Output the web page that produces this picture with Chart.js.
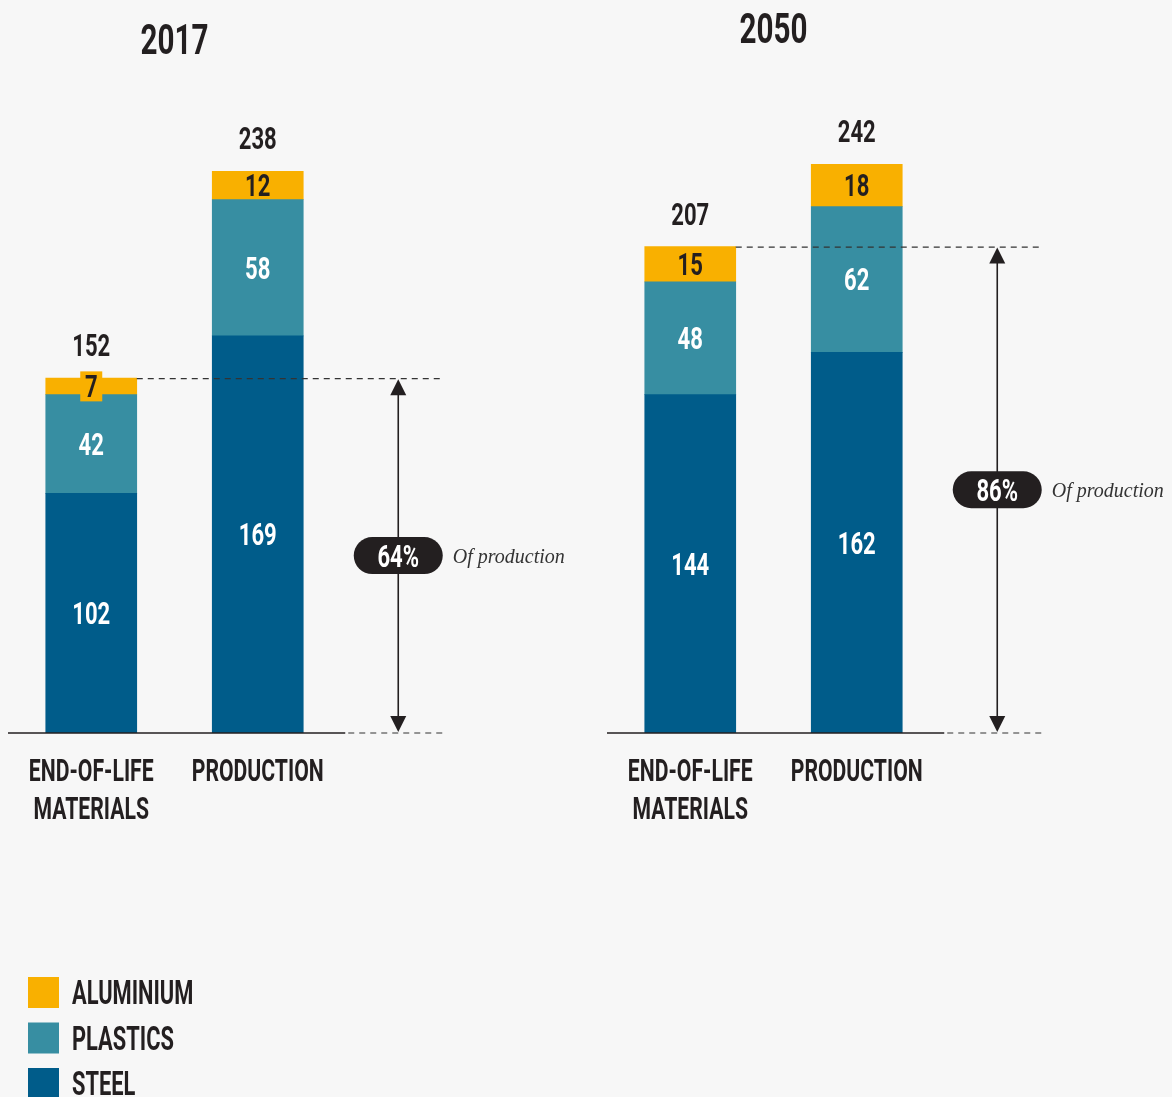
<!DOCTYPE html>
<html><head><meta charset="utf-8">
<script src="https://cdn.jsdelivr.net/npm/chart.js@4/dist/chart.umd.min.js"></script>
<style>
html,body{margin:0;padding:0;background:#f7f7f7;width:1172px;height:1097px;overflow:hidden;}
.wrap{position:absolute;top:0;height:1097px;}
</style></head><body>
<div class="wrap" style="left:0;width:600px"><canvas id="a" width="600" height="1097"></canvas></div>
<div class="wrap" style="left:600px;width:572px"><canvas id="b" width="572" height="1097"></canvas></div>
<script>
// ---- data ----
const categories = [['END-OF-LIFE', 'MATERIALS'], ['PRODUCTION']];
const seriesNames = ['STEEL', 'PLASTICS', 'ALUMINIUM'];
const panelTitles = ['2017', '2050'];
const steel2017 = [102, 169];
const plastics2017 = [42, 58];
const aluminium2017 = [7, 12];
const totals2017 = [152, 238];
const share2017 = 64;
const steel2050 = [144, 162];
const plastics2050 = [48, 62];
const aluminium2050 = [15, 18];
const totals2050 = [207, 242];
const share2050 = 86;
const shareNote = 'Of production';
const yMax = 300;

// ---- style ----
const COLORS = ['#005C8A', '#378EA2', '#F9B000'];
const LABEL_COLORS = ['#ffffff', '#ffffff', '#231F20'];
const INK = '#231F20';
const FONT = 'Roboto, "DejaVu Sans", sans-serif';

const mctx = document.createElement('canvas').getContext('2d');
function fit(str, size, target) {
  mctx.font = `700 ${size}px ${FONT}`;
  return target / mctx.measureText(str).width;
}
const SX_LABEL = fit('PRODUCTION', 32, 132);
const SX_NUM = fit('238', 31, 38);
const SX_TITLE = fit('2050', 42, 68);

function ctext(ctx, str, x, y, size, sx, align, color) {
  ctx.save();
  ctx.font = `700 ${size}px ${FONT}`;
  ctx.fillStyle = color;
  ctx.textAlign = align;
  ctx.textBaseline = 'alphabetic';
  ctx.translate(x, y);
  ctx.scale(sx, 1);
  ctx.fillText(str, 0, 0);
  ctx.restore();
}

const panelPlugin = {
  id: 'panel',
  afterDatasetsDraw(chart, args, o) {
    const ctx = chart.ctx;
    const area = chart.chartArea;
    const bottom = area.bottom;
    const metas = chart.data.datasets.map((d, i) => chart.getDatasetMeta(i));
    const n = chart.data.labels.length;
    const tops = [], centers = [], halfW = [];
    for (let j = 0; j < n; j++) {
      let t = Infinity;
      metas.forEach(m => { t = Math.min(t, m.data[j].y); });
      tops.push(t);
      centers.push(metas[0].data[j].x);
      halfW.push(metas[0].data[j].width / 2);
    }
    const eolRight = centers[0] + halfW[0];
    const prodRight = centers[1] + halfW[1];
    const arrowX = prodRight + 95;
    const dashEnd = arrowX + 45;
    const solidEnd = prodRight + 42;

    // baseline
    ctx.save();
    ctx.strokeStyle = INK; ctx.lineWidth = 1.5;
    ctx.beginPath(); ctx.moveTo(area.left, bottom); ctx.lineTo(solidEnd, bottom); ctx.stroke();
    ctx.restore();

    // segment labels
    metas.forEach((m, i) => {
      const ds = chart.data.datasets[i];
      m.data.forEach((el, j) => {
        const v = ds.data[j];
        const cy = (el.y + el.base) / 2;
        const h = Math.abs(el.base - el.y);
        if (h < 28) {
          ctx.save();
          ctx.fillStyle = ds.backgroundColor;
          ctx.fillRect(el.x - 11, cy - 15, 22, 30);
          ctx.restore();
        }
        ctext(ctx, String(v), el.x, cy + 11, 31, SX_NUM, 'center', LABEL_COLORS[i]);
      });
    });

    // totals
    o.totals.forEach((t, j) => {
      ctext(ctx, String(t), centers[j], tops[j] - 22, 31, SX_NUM, 'center', INK);
    });

    // dashed lines
    ctx.save();
    ctx.strokeStyle = '#333'; ctx.lineWidth = 1.2; ctx.setLineDash([6, 5]);
    ctx.beginPath(); ctx.moveTo(eolRight, tops[0] + 0.5); ctx.lineTo(dashEnd, tops[0] + 0.5); ctx.stroke();
    ctx.beginPath(); ctx.moveTo(solidEnd + 3, bottom); ctx.lineTo(dashEnd, bottom); ctx.stroke();
    ctx.restore();

    // arrow
    const aTop = tops[0] + 1, aBot = bottom - 1;
    ctx.save();
    ctx.strokeStyle = INK; ctx.fillStyle = INK; ctx.lineWidth = 1.6;
    ctx.beginPath(); ctx.moveTo(arrowX, aTop + 10); ctx.lineTo(arrowX, aBot - 10); ctx.stroke();
    ctx.beginPath(); ctx.moveTo(arrowX, aTop); ctx.lineTo(arrowX - 8, aTop + 16); ctx.lineTo(arrowX + 8, aTop + 16); ctx.closePath(); ctx.fill();
    ctx.beginPath(); ctx.moveTo(arrowX, aBot); ctx.lineTo(arrowX - 8, aBot - 16); ctx.lineTo(arrowX + 8, aBot - 16); ctx.closePath(); ctx.fill();
    // pill
    const cy = (tops[0] + bottom) / 2;
    const pw = 89, ph = 37, r = ph / 2;
    ctx.beginPath();
    ctx.roundRect(arrowX - pw / 2, cy - ph / 2, pw, ph, r);
    ctx.fill();
    ctx.restore();
    ctext(ctx, o.share + '%', arrowX, cy + 11, 31, SX_NUM, 'center', '#ffffff');
    ctx.save();
    ctx.font = 'italic 20px "Liberation Serif", "DejaVu Serif", serif';
    ctx.fillStyle = '#333';
    ctx.textAlign = 'left'; ctx.textBaseline = 'alphabetic';
    ctx.fillText(o.note, arrowX + pw / 2 + 10, cy + 7);
    ctx.restore();

    // category labels
    chart.data.labels.forEach((lab, j) => {
      const lines = Array.isArray(lab) ? lab : [lab];
      lines.forEach((ln, k) => {
        ctext(ctx, ln, chart.scales.x.getPixelForValue(j), 781 + k * 38, 32, SX_LABEL, 'center', INK);
      });
    });

    // title
    ctext(ctx, o.title, (area.left + area.right) / 2, o.titleY, 42, SX_TITLE, 'center', INK);

    // legend
    if (o.legend) {
      const order = [2, 1, 0];
      order.forEach((i, k) => {
        const ds = chart.data.datasets[i];
        const y = 977 + k * 45.5;
        ctx.save();
        ctx.fillStyle = ds.backgroundColor;
        ctx.fillRect(28, y, 31, 31);
        ctx.restore();
        ctext(ctx, ds.label, 72, y + 15.5 + 11.5, 33, SX_LABEL, 'left', INK);
      });
    }
  }
};

function makePanel(id, steel, plastics, alu, totals, share, title, titleY, pad, legend) {
  const values = [steel, plastics, alu];
  return new Chart(document.getElementById(id), {
    type: 'bar',
    data: {
      labels: categories,
      datasets: values.map((v, i) => ({
        label: seriesNames[i],
        data: v,
        backgroundColor: COLORS[i],
        borderWidth: 0,
        barThickness: 91
      }))
    },
    options: {
      responsive: false,
      devicePixelRatio: 1,
      animation: false,
      layout: { padding: pad },
      scales: {
        x: { stacked: true, display: false },
        y: { stacked: true, display: false, min: 0, max: yMax }
      },
      plugins: {
        legend: { display: false },
        tooltip: { enabled: false },
        panel: { totals, share, title, titleY, note: shareNote, legend }
      }
    },
    plugins: [panelPlugin]
  });
}

makePanel('a', steel2017, plastics2017, aluminium2017, totals2017, share2017, panelTitles[0], 54,
  { left: 8, right: 259, top: 28, bottom: 364 }, true);
makePanel('b', steel2050, plastics2050, aluminium2050, totals2050, share2050, panelTitles[1], 43,
  { left: 7, right: 232, top: 28, bottom: 364 }, false);
</script>
</body></html>
